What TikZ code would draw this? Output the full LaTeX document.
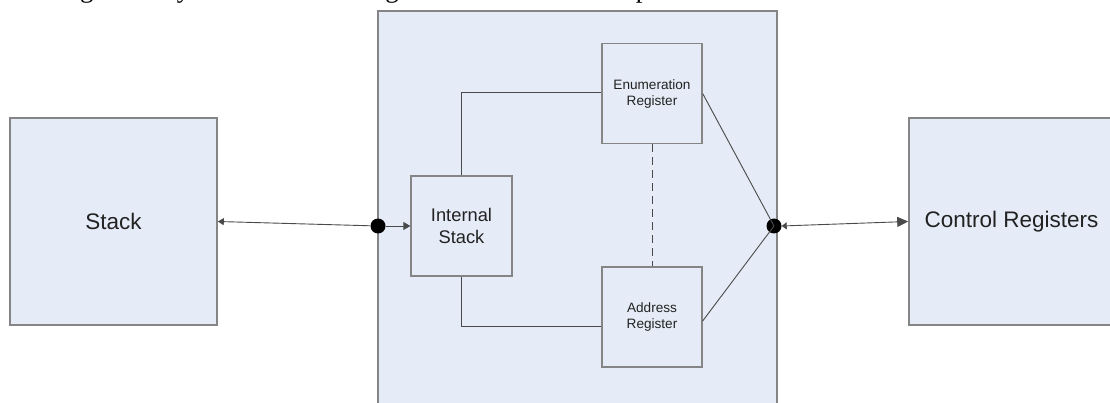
\documentclass[tikz,border=0pt]{standalone}
\usepackage{fontspec}
\setmainfont{Liberation Sans}
\newfontfamily\bodyserif{Liberation Serif}
\usetikzlibrary{arrows.meta}
\definecolor{boxfill}{HTML}{E6ECF7}
\definecolor{boxline}{HTML}{858585}
\definecolor{wire}{HTML}{4A4A4A}
\definecolor{labeltext}{HTML}{222222}
\tikzset{
  block/.style={draw=boxline, line width=1.6pt, fill=boxfill, inner sep=0pt,
    minimum width=#1, minimum height=#1, text=labeltext, align=center},
  unit/.style={draw=boxline, line width=1.3pt, fill=boxfill, inner sep=0pt,
    minimum width=100pt, minimum height=100pt, text=labeltext, align=center},
  wireline/.style={draw=wire, line width=0.9pt},
  junction/.style={circle, fill=black, inner sep=0pt, minimum size=15pt},
}
\begin{document}
\begin{tikzpicture}[x=1pt, y=-1pt]
\useasboundingbox (0,0) rectangle (1110,403);
\clip (0,0) rectangle (1110,403);
\fill[white] (0,0) rectangle (1110,403);

% running text of the page above the figure
\node[anchor=base west, inner sep=0pt, font=\bodyserif\fontsize{27}{30}\selectfont] (caption) at (-1,-2)
  {reducing memory access time. The general lookout of this plan is shown below.};

% outer blocks
\node[block=207pt, font=\fontsize{22.5}{26}\selectfont] (stack) at (113.5,221.5) {Stack};
\node[block=207pt, minimum width=205pt, font=\fontsize{22.5}{26}\selectfont] (ctrl) at (1011.5,221.5) {Control Registers};

% central unit
\node[draw=boxline, line width=1.6pt, fill=boxfill, minimum width=399pt, minimum height=420pt, inner sep=0pt] (unit) at (577.5,221) {};

% inner registers
\node[unit, minimum width=101pt, font=\fontsize{18.3}{22}\selectfont] (istack) at (461.5,226) {Internal\\Stack};
\node[unit, font=\fontsize{13.6}{16}\selectfont] (enum) at (652,93.5) {Enumeration\\Register};
\node[unit, font=\fontsize{13.6}{16}\selectfont] (addr) at (652,317) {Address\\Register};

% junction points
\node[junction] (ljoin) at (378,226) {};
\node[junction] (rjoin) at (774,226) {};

% connectors
\draw[wireline, -{Triangle[length=6pt, width=7pt]}] (ljoin) -- (stack.east);
\draw[wireline, -{Triangle[length=7pt, width=8pt]}] (ljoin) -- (istack.west);
\draw[wireline] (istack.north) |- ([yshift=1.5pt]enum.west);
\draw[wireline] (istack.south) |- ([yshift=-9pt]addr.west);
\draw[wireline, dashed, dash pattern=on 8pt off 5pt] (enum.south) -- (addr.north);
\draw[wireline] (enum.east) -- (rjoin.center);
\draw[wireline] ([yshift=-4pt]addr.east) -- (rjoin.center);
\draw[wireline, {Triangle[length=5pt, width=7pt]}-{Triangle[length=11pt, width=10pt]}] (rjoin.east) -- (ctrl.west);
\end{tikzpicture}
\end{document}
